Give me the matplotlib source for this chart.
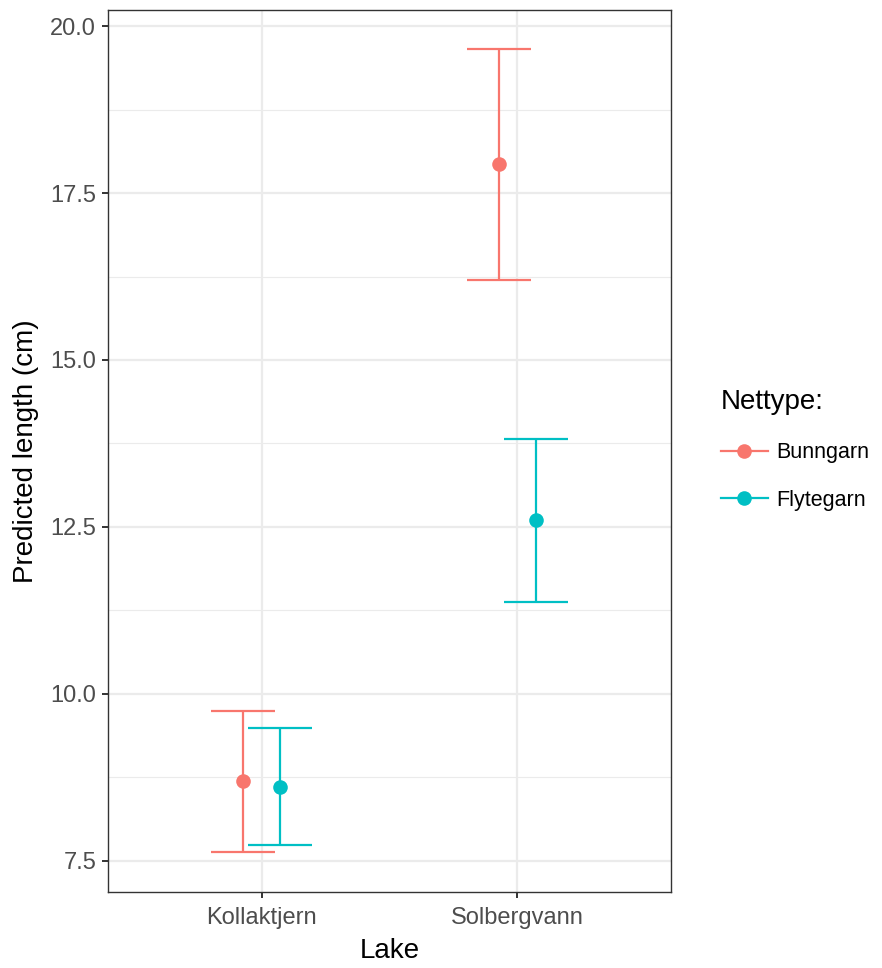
import matplotlib
matplotlib.use("Agg")
import matplotlib.pyplot as plt
from matplotlib.lines import Line2D
import numpy as np

plt.rcParams['font.family'] = ['Liberation Sans', 'DejaVu Sans']

lakes = ["Kollaktjern", "Solbergvann"]
nettypes = ["Bunngarn", "Flytegarn"]
colors = ["#F8766D", "#00BFC4"]
# predicted values and CI per nettype, ordered by lakes
fit = {"Bunngarn": [8.70, 17.94], "Flytegarn": [8.61, 12.60]}
lower = {"Bunngarn": [7.635, 16.20], "Flytegarn": [7.74, 11.37]}
upper = {"Bunngarn": [9.74, 19.66], "Flytegarn": [9.49, 13.81]}

fig = plt.figure(figsize=(8.82, 9.68), dpi=100)
ax = fig.add_axes([108/882, 1-892/968, (671-108)/882, (892-10)/968])

dodge = 0.074
capw = 0.125
x = np.arange(len(lakes)) + 1
for i, (nt, c) in enumerate(zip(nettypes, colors)):
    off = -dodge if i == 0 else dodge
    xs = x + off
    f = np.array(fit[nt]); lo = np.array(lower[nt]); hi = np.array(upper[nt])
    ax.vlines(xs, lo, hi, color=c, lw=1.6, zorder=3)
    ax.hlines(lo, xs - capw, xs + capw, color=c, lw=1.6, zorder=3)
    ax.hlines(hi, xs - capw, xs + capw, color=c, lw=1.6, zorder=3)
    ax.plot(xs, f, 'o', color=c, ms=10.5, mec='none', zorder=4)

ax.set_xlim(0.4, 2.6)
ax.set_ylim(7.035, 20.24)
ax.set_xticks(x)
ax.set_xticklabels(lakes)
ax.set_yticks([7.5, 10.0, 12.5, 15.0, 17.5, 20.0])
ax.set_yticklabels(["7.5", "10.0", "12.5", "15.0", "17.5", "20.0"])
ax.set_yticks([8.75, 11.25, 13.75, 16.25, 18.75], minor=True)

ax.grid(True, which='major', color='#EBEBEB', lw=1.6, zorder=0)
ax.grid(True, which='minor', axis='y', color='#EBEBEB', lw=0.8, zorder=0)
ax.set_axisbelow(True)
for s in ax.spines.values():
    s.set_color('#333333')
    s.set_linewidth(1.0)
ax.tick_params(which='major', length=4.5, width=1.4, color='#333333',
               labelsize=17, labelcolor='#4D4D4D', pad=4)
ax.tick_params(axis='x', which='major', pad=6)
ax.tick_params(which='minor', length=0)

ax.set_xlabel("Lake", fontsize=20, labelpad=7)
ax.set_ylabel("Predicted length (cm)", fontsize=20, labelpad=8)

handles = [Line2D([0], [0], color=c, lw=1.6, marker='o', ms=10.5, mec='none') for c in colors]
leg = fig.legend(handles, nettypes, title="Nettype:", loc='center left',
                 bbox_to_anchor=(0.795, 0.535), frameon=False, fontsize=15.5,
                 title_fontsize=20, handlelength=2.2, labelspacing=1.25,
                 handletextpad=0.4)
leg._legend_box.align = "left"

fig.savefig("out.png", dpi=100)
